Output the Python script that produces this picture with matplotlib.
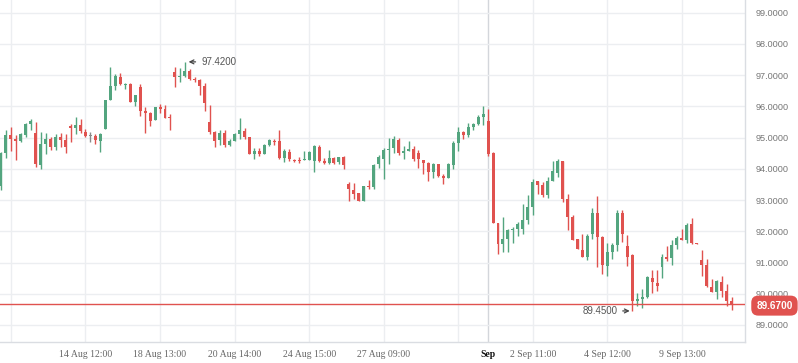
import matplotlib
matplotlib.use("Agg")
import matplotlib.pyplot as plt
import numpy as np

# OHLC candles, oldest first
opens = [
    93.46, 94.51, 95.08, 94.95, 94.90, 95.08, 95.44, 95.14, 94.13, 94.79,
    94.95, 94.71, 95.02, 94.92, 95.38, 95.31, 95.40, 95.18, 95.05, 95.05,
    94.90, 95.28, 96.21, 96.66, 96.94, 96.69, 96.71, 96.15, 96.62, 95.85,
    95.78, 95.57, 95.99, 95.92, 95.66, 97.10, 96.95, 96.98, 97.13, 96.88,
    96.85, 96.66, 95.50, 95.18, 94.92, 95.13, 94.76, 94.89, 95.11, 95.22,
    95.02, 94.48, 94.57, 94.48, 94.77, 94.89, 94.89, 94.35, 94.53, 94.29,
    94.29, 94.27, 94.29, 94.26, 94.70, 94.25, 94.19, 94.34, 94.22, 94.38,
    93.51, 93.32, 93.22, 92.98, 93.44, 93.43, 94.16, 94.31, 94.61, 94.65,
    94.92, 94.51, 94.58, 94.62, 94.51, 94.28, 94.18, 93.91, 94.15, 93.77,
    93.71, 94.13, 94.83, 95.18, 95.08, 95.34, 95.44, 95.67, 95.53, 94.51,
    92.25, 91.60, 91.76, 92.04, 92.08, 92.08, 92.36, 92.79, 93.60, 93.48,
    93.16, 93.62, 93.87, 94.25, 93.02, 92.46, 91.75, 91.41, 91.19, 91.91,
    92.59, 91.81, 90.90, 91.34, 91.55, 92.59, 91.53, 91.23, 89.78, 89.83,
    89.90, 90.51, 90.34, 90.87, 91.19, 91.13, 91.56, 91.78, 91.73, 92.23,
    91.61, 91.09, 90.92, 90.22, 90.06, 90.39, 90.09, 89.77,
]
highs = [
    94.53, 95.24, 95.34, 95.08, 95.15, 95.47, 95.60, 95.50, 95.18, 95.14,
    95.03, 95.11, 95.14, 95.11, 95.44, 95.66, 95.59, 95.27, 95.18, 95.12,
    95.13, 96.20, 97.26, 97.03, 97.06, 96.75, 96.74, 96.36, 96.71, 95.97,
    95.82, 95.98, 96.07, 96.03, 95.75, 97.26, 97.22, 97.42, 97.19, 96.95,
    96.88, 96.73, 96.04, 95.21, 95.24, 95.24, 94.96, 95.15, 95.62, 95.30,
    95.02, 94.66, 94.66, 94.79, 94.96, 94.96, 95.24, 94.64, 94.64, 94.32,
    94.37, 94.57, 94.57, 94.75, 94.75, 94.34, 94.60, 94.38, 94.38, 94.41,
    93.58, 93.53, 93.22, 93.45, 93.64, 94.15, 94.43, 94.65, 94.98, 95.05,
    94.98, 94.73, 94.89, 94.73, 94.60, 94.28, 94.22, 94.18, 94.15, 93.83,
    94.18, 94.90, 95.33, 95.22, 95.47, 95.47, 95.73, 96.01, 95.91, 94.54,
    92.25, 92.46, 92.08, 92.14, 92.29, 92.86, 93.16, 93.67, 93.60, 93.57,
    93.75, 94.24, 94.31, 94.25, 93.19, 92.51, 91.75, 91.91, 91.92, 92.75,
    93.13, 91.84, 91.61, 91.61, 92.67, 92.68, 91.87, 91.27, 90.01, 90.15,
    90.58, 90.76, 90.76, 91.28, 91.53, 91.71, 91.86, 92.08, 92.27, 92.43,
    91.61, 91.40, 91.11, 90.47, 90.44, 90.58, 90.31, 89.89,
]
lows = [
    93.32, 94.35, 94.58, 94.29, 94.87, 95.03, 95.24, 94.07, 94.00, 94.48,
    94.61, 94.61, 94.71, 94.51, 94.87, 95.12, 95.13, 95.03, 94.87, 94.80,
    94.55, 95.28, 96.21, 96.53, 96.69, 96.54, 96.15, 96.02, 95.69, 95.15,
    95.38, 95.57, 95.79, 95.63, 95.25, 96.63, 96.78, 96.95, 96.84, 96.79,
    96.37, 95.86, 95.10, 94.71, 94.75, 94.69, 94.73, 94.89, 94.96, 94.96,
    94.48, 94.32, 94.41, 94.48, 94.73, 94.75, 94.32, 94.21, 94.24, 94.22,
    94.19, 94.27, 94.29, 93.91, 94.22, 94.15, 94.15, 94.16, 94.15, 94.00,
    92.98, 93.04, 92.98, 92.96, 93.34, 93.34, 94.02, 93.67, 94.16, 94.51,
    94.43, 94.31, 94.58, 94.25, 94.03, 93.82, 93.62, 93.71, 93.75, 93.51,
    93.71, 94.00, 94.58, 94.96, 95.03, 95.25, 95.41, 95.41, 94.42, 92.25,
    91.28, 91.33, 91.35, 91.63, 91.86, 91.92, 92.24, 92.53, 93.19, 93.09,
    93.08, 93.61, 93.75, 92.95, 92.05, 91.73, 91.43, 91.19, 91.09, 91.75,
    90.86, 90.63, 90.58, 91.11, 91.36, 91.66, 90.89, 89.45, 89.62, 89.55,
    89.86, 90.01, 90.09, 90.51, 91.06, 90.92, 91.44, 91.71, 91.61, 91.59,
    91.60, 90.57, 90.22, 90.06, 89.83, 89.90, 89.62, 89.48,
]
closes = [
    94.49, 95.08, 94.96, 94.90, 95.11, 95.43, 95.53, 94.16, 94.79, 94.95,
    94.71, 95.02, 94.93, 94.71, 95.31, 95.40, 95.22, 95.06, 95.05, 94.91,
    95.11, 96.20, 96.65, 96.97, 96.72, 96.72, 96.15, 96.36, 95.86, 95.79,
    95.54, 95.98, 95.92, 95.63, 95.63, 96.94, 96.98, 97.12, 96.87, 96.85,
    96.66, 96.11, 95.18, 94.90, 95.13, 94.76, 94.89, 95.10, 95.24, 95.03,
    94.48, 94.57, 94.48, 94.75, 94.92, 94.87, 94.35, 94.57, 94.30, 94.26,
    94.26, 94.29, 94.54, 94.72, 94.26, 94.19, 94.34, 94.17, 94.38, 94.12,
    93.35, 93.20, 92.98, 93.45, 93.41, 94.13, 94.39, 94.60, 94.63, 94.95,
    94.51, 94.57, 94.62, 94.31, 94.30, 94.18, 93.91, 94.15, 93.77, 93.71,
    94.15, 94.83, 95.18, 95.08, 95.34, 95.44, 95.67, 95.75, 94.48, 92.27,
    91.60, 91.75, 92.05, 92.08, 92.23, 92.36, 92.78, 93.59, 93.49, 93.16,
    93.60, 93.93, 94.25, 93.03, 92.47, 91.73, 91.43, 91.19, 91.86, 92.59,
    91.83, 90.92, 91.34, 91.55, 92.59, 91.90, 91.19, 89.78, 89.83, 89.91,
    90.55, 90.39, 90.26, 91.19, 91.11, 91.56, 91.78, 91.73, 92.21, 91.62,
    91.60, 90.93, 90.25, 90.06, 90.41, 90.10, 89.77, 89.67,
]

# x axis: candle index of each labelled tick
tick_pos = [17, 32, 47, 62, 77, 98, 107, 122, 137]
tick_labels = ["14 Aug 12:00", "18 Aug 13:00", "20 Aug 14:00", "24 Aug 15:00",
               "27 Aug 09:00", "Sep", "2 Sep 11:00", "4 Sep 12:00", "9 Sep 13:00"]
grid_pos = [2, 17, 32, 47, 62, 77, 92, 107, 122, 137]
month_pos = 98
y_ticks = [89, 90, 91, 92, 93, 94, 95, 96, 97, 98, 99]

last_price = 89.67
max_idx, max_val = 37, 97.42
min_idx, min_val = 127, 89.45

UP = "#53a57f"
DOWN = "#e0524f"
FLAT = "#8a8a8a"
GRID = "#eceef1"

o = np.array(opens)
h = np.array(highs)
l = np.array(lows)
c = np.array(closes)
x = np.arange(len(o))

colors = np.where(c > o, UP, np.where(c < o, DOWN, FLAT))

fig = plt.figure(figsize=(7.98, 3.63), dpi=100)
ax = fig.add_axes([0, 21 / 363, 745 / 798, 342 / 363])

# grid
for g in grid_pos:
    ax.axvline(g, color=GRID, lw=1, zorder=0)
ax.axvline(month_pos, color="#d3d6db", lw=1, zorder=0)
for yv in y_ticks:
    ax.axhline(yv, color=GRID, lw=1, zorder=0)

# candles
ax.vlines(x, l, h, colors=colors, lw=1, zorder=2)
body_low = np.minimum(o, c)
body_h = np.maximum(np.abs(c - o), 0.03)
ax.bar(x, body_h, bottom=body_low, width=0.6, color=colors, lw=0, zorder=3)

# last price line + tag
ax.axhline(last_price, color=DOWN, lw=1, zorder=4)
fig.text(0.9705, ax.transData.transform((0, last_price))[1] / fig.bbox.height,
         f"{last_price:.4f}", ha="center", va="center", color="white",
         fontsize=7.2, fontweight="bold", family="Liberation Sans",
         bbox=dict(boxstyle="round,pad=0.5,rounding_size=0.7", fc=DOWN, ec="none"))

# max / min annotations
ax.annotate(f"{max_val:.4f}", xy=(max_idx + 0.75, max_val), xytext=(9, 0),
            textcoords="offset points", ha="left", va="center",
            fontsize=7, color="#555555", family="Liberation Sans", zorder=5,
            arrowprops=dict(arrowstyle="->", color="#444444", lw=0.9,
                            shrinkA=2, shrinkB=0))
ax.annotate(f"{min_val:.4f}", xy=(min_idx - 0.5, min_val), xytext=(-9, 0),
            textcoords="offset points", ha="right", va="center",
            fontsize=7, color="#555555", family="Liberation Sans", zorder=5,
            arrowprops=dict(arrowstyle="->", color="#444444", lw=0.9,
                            shrinkA=2, shrinkB=0))

ax.set_xlim(-0.2, 149.7)
ax.set_ylim(88.456, 99.4)

ax.yaxis.tick_right()
ax.set_yticks(y_ticks)
ax.set_yticklabels([f"{v:.4f}" for v in y_ticks], fontsize=6.6, color="#777777",
                   family="Liberation Sans")
ax.set_xticks(tick_pos)
ax.set_xticklabels(tick_labels, fontsize=7, color="#666666", family="Liberation Serif")
for lab in ax.get_xticklabels():
    if lab.get_text() == "Sep":
        lab.set_fontweight("bold")
        lab.set_color("#111111")
ax.tick_params(axis="y", length=0, pad=8)
ax.tick_params(axis="x", length=0, pad=6)

for s in ["top", "left"]:
    ax.spines[s].set_visible(False)
for s in ["right", "bottom"]:
    ax.spines[s].set_color("#dadde2")
    ax.spines[s].set_linewidth(1)

fig.savefig("out.png", dpi=100)
